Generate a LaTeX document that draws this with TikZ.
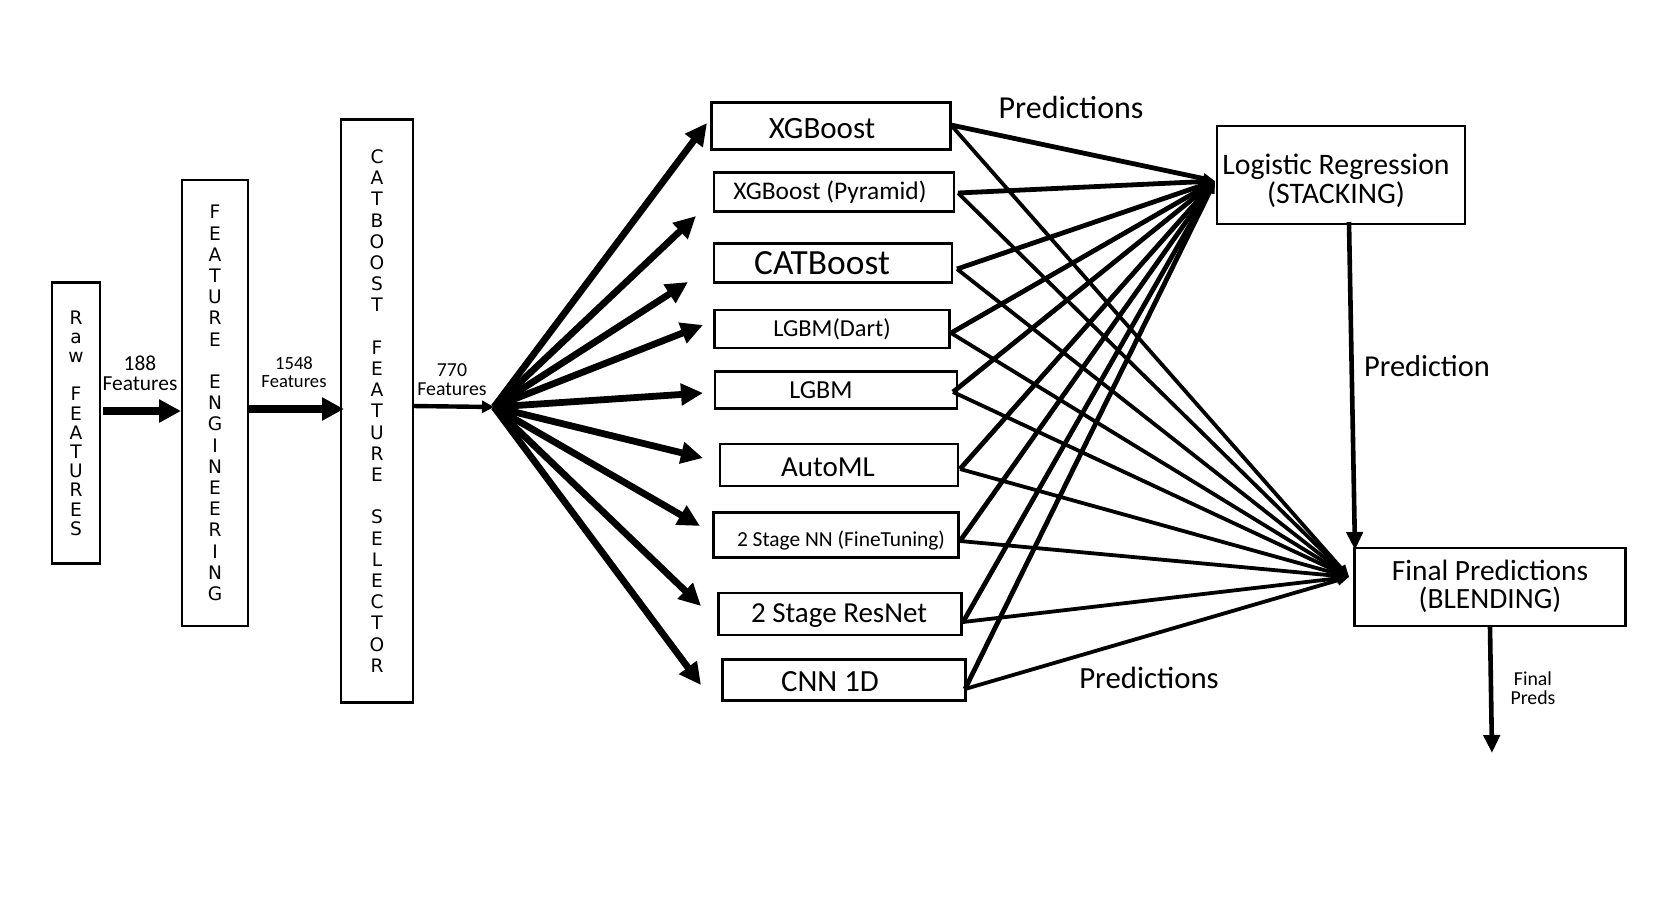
\documentclass[tikz,border=0pt]{standalone}
\usepackage{fontspec}
\setmainfont{Carlito}
\newfontfamily\vfont{DejaVu Sans}
\usetikzlibrary{arrows.meta}
\tikzset{
  bx/.style={draw, line width=1.1pt, inner sep=0pt},
  vtext/.style={align=center, font=\vfont\fontsize{9.3}{10.6}\selectfont},
  fan/.style={line width=3.4pt, -{Triangle[length=11pt,width=10.5pt]}},
  thick arrow/.style={line width=3.6pt, -{Triangle[length=11pt,width=11pt]}},
  tostack/.style={line width=2.4pt, -{Triangle[length=6pt,width=5pt]}},
  toblend/.style={line width=1.9pt, -{Triangle[length=6pt,width=5pt]}},
  down arrow/.style={line width=2.3pt, -{Triangle[length=9pt,width=8pt]}},
  lbl/.style={align=center, inner sep=0pt},
}
\begin{document}
\begin{tikzpicture}[x=0.5pt,y=-0.5pt]
\useasboundingbox[fill=white] (0,0) rectangle (1671,923);

% vertical boxes
\node[bx, vtext, font=\vfont\fontsize{9.3}{9.6}\selectfont, minimum width=24pt, minimum height=140.5pt] (raw) at (76,423)
  {R\\a\\w\\[9.6pt]F\\E\\A\\T\\U\\R\\E\\S};
\node[bx, vtext, minimum width=33pt, minimum height=223pt] (fe) at (215,403)
  {F\\E\\A\\T\\U\\R\\E\\[10.6pt]E\\N\\G\\I\\N\\E\\E\\R\\I\\N\\G};
\node[bx, vtext, minimum width=36pt, minimum height=291.5pt] (cb) at (377,411)
  {C\\A\\T\\B\\O\\O\\S\\T\\[10.6pt]F\\E\\A\\T\\U\\R\\E\\[10.6pt]S\\E\\L\\E\\C\\T\\O\\R};

% feature arrows
\coordinate (a1s) at (103,411); \coordinate (a1e) at (181,411);
\coordinate (a2s) at (248,409); \coordinate (a2e) at (344,409);
\draw[thick arrow] (a1s) -- (a1e);
\draw[thick arrow] (a2s) -- (a2e);
\node[lbl, font=\fontsize{10.7}{10}\selectfont] (l188) at (140,373) {188\\Features};
\node[lbl, font=\fontsize{9.3}{9}\selectfont] (l1548) at (294,372) {1548\\Features};
\node[lbl, font=\fontsize{9.9}{9.5}\selectfont] (l770) at (452,380) {770\\Features};

\coordinate (cbo) at (413,406);
\coordinate (hub) at (494,407);
\draw[line width=2.2pt, -{Triangle[length=6pt,width=6pt]}] (cbo) -- (hub);

% model boxes
\node[bx, minimum width=119.5pt, minimum height=23.5pt,
  label={[xshift=-4.5pt,yshift=-1.5pt,font=\fontsize{15.5}{16}\selectfont]center:XGBoost}] (m1) at (831,126) {};
\node[bx, minimum width=120pt, minimum height=19.5pt,
  label={[xshift=-2pt,font=\fontsize{12.7}{13}\selectfont]center:XGBoost (Pyramid)}] (m2) at (834,192) {};
\node[bx, minimum width=119pt, minimum height=19.5pt,
  label={[xshift=-5.5pt,font=\fontsize{17.7}{18}\selectfont]center:CATBoost}] (m3) at (833,263) {};
\node[bx, minimum width=117.5pt, minimum height=19pt,
  label={[xshift=0pt,font=\fontsize{12.2}{13}\selectfont]center:LGBM(Dart)}] (m4) at (832,329) {};
\node[bx, minimum width=121pt, minimum height=18.5pt,
  label={[xshift=-7.5pt,font=\fontsize{13}{13}\selectfont]center:LGBM}] (m5) at (836,390) {};
\node[bx, minimum width=119pt, minimum height=21pt,
  label={[xshift=-5.5pt,yshift=-1pt,font=\fontsize{14.5}{15}\selectfont]center:AutoML}] (m6) at (839,465) {};
\node[bx, minimum width=122.5pt, minimum height=22.5pt,
  label={[xshift=2.5pt,yshift=-2.5pt,font=\fontsize{10.7}{11}\selectfont]center:2 Stage NN (FineTuning)}] (m7) at (836,535) {};
\node[bx, minimum width=121.5pt, minimum height=21pt,
  label={[xshift=-0.5pt,yshift=-1pt,font=\fontsize{14.5}{15}\selectfont]center:2 Stage ResNet}] (m8) at (840,614) {};
\node[bx, minimum width=121.5pt, minimum height=20.5pt,
  label={[xshift=-7pt,yshift=-1pt,font=\fontsize{15.4}{16}\selectfont]center:CNN 1D}] (m9) at (844,680) {};

% fan arrow tips
\coordinate (t1) at (707,123);
\coordinate (t2) at (696,216);
\coordinate (t3) at (688,282);
\coordinate (t4) at (703,325);
\coordinate (t5) at (703,393);
\coordinate (t6) at (703,458);
\coordinate (t7) at (700,526);
\coordinate (t8) at (701,606);
\coordinate (t9) at (701,685);
\foreach \i in {1,...,9} { \draw[fan] (hub) -- (t\i); }

% stacking and blending boxes
\node[bx, minimum width=124pt, minimum height=49pt] (lr) at (1341,175) {};
\node[lbl, font=\fontsize{14.9}{14.5}\selectfont] (lrt) at (1336,181) {Logistic Regression\\(STACKING)};
\node[bx, minimum width=135.5pt, minimum height=39pt] (fp) at (1490,587) {};
\node[lbl, font=\fontsize{14.7}{14}\selectfont] (fpt) at (1490,586) {Final Predictions\\(BLENDING)};

\coordinate (sh) at (1215,181);
\coordinate (bh) at (1349,577);

% model output points
\coordinate (o1) at (951,125);
\coordinate (o2) at (958,193);
\coordinate (o3) at (957,269);
\coordinate (o4) at (951,333);
\coordinate (o5) at (953,392);
\coordinate (o6) at (960,469);
\coordinate (o7) at (960,541);
\coordinate (o8) at (963,622);
\coordinate (o9) at (965,689);
\foreach \i in {1,...,9} {
  \draw[toblend] (o\i) -- (bh);
}
\foreach \i in {1,...,9} {
  \draw[tostack] (o\i) -- (sh);
}

% stack -> blend
\coordinate (lro) at (1349,222);
\coordinate (fpi) at (1355,550);
\draw[down arrow] (lro) -- (fpi);
% final output
\coordinate (fout) at (1492,753);
\draw[down arrow] (fp.south) -- (fout);

% labels
\node[lbl, font=\fontsize{16}{16}\selectfont] (p1) at (1071,107) {Predictions};
\node[lbl, font=\fontsize{15.4}{16}\selectfont] (p2) at (1149,678) {Predictions};
\node[lbl, font=\fontsize{15.2}{16}\selectfont] (p3) at (1427,366) {Prediction};
\node[lbl, font=\fontsize{9.9}{9.5}\selectfont] (fpl) at (1533,688) {Final\\Preds};
\end{tikzpicture}
\end{document}
